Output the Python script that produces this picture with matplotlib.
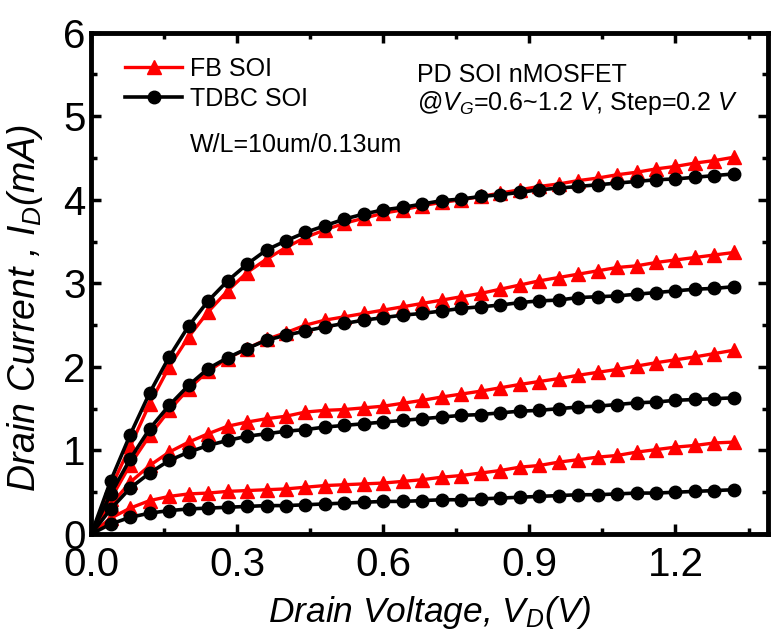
import numpy as np
import matplotlib
matplotlib.use("Agg")
import matplotlib.pyplot as plt
from matplotlib.ticker import MultipleLocator, FormatStrFormatter

plt.rcParams['font.family'] = ['Liberation Sans', 'DejaVu Sans']
plt.rcParams['mathtext.fontset'] = 'custom'
plt.rcParams['mathtext.rm'] = 'Liberation Sans'
plt.rcParams['mathtext.it'] = 'Liberation Sans:italic'

# drain voltage (V)
vd = [0.00, 0.04, 0.08, 0.12, 0.16, 0.20, 0.24, 0.28, 0.32, 0.36, 0.40, 0.44,
      0.48, 0.52, 0.56, 0.60, 0.64, 0.68, 0.72, 0.76, 0.80, 0.84, 0.88, 0.92,
      0.96, 1.00, 1.04, 1.08, 1.12, 1.16, 1.20, 1.24, 1.28, 1.32]

# FB SOI, Vg = 1.2 / 1.0 / 0.8 / 0.6 V  (mA)
fb_12 = [0, 0.55, 1.05, 1.56, 2.00, 2.36, 2.66, 2.91, 3.13, 3.29, 3.43, 3.55,
         3.64, 3.72, 3.78, 3.84, 3.88, 3.93, 3.97, 4.00, 4.04, 4.08, 4.12, 4.16,
         4.19, 4.23, 4.26, 4.30, 4.33, 4.37, 4.40, 4.44, 4.47, 4.51]
fb_10 = [0, 0.42, 0.83, 1.18, 1.48, 1.74, 1.95, 2.10, 2.22, 2.33, 2.41, 2.50,
         2.56, 2.60, 2.64, 2.68, 2.72, 2.76, 2.80, 2.84, 2.88, 2.93, 2.98, 3.03,
         3.07, 3.11, 3.15, 3.19, 3.21, 3.25, 3.28, 3.31, 3.34, 3.37]
fb_08 = [0, 0.35, 0.62, 0.82, 0.98, 1.10, 1.20, 1.29, 1.34, 1.38, 1.41, 1.46,
         1.48, 1.49, 1.51, 1.53, 1.565, 1.60, 1.64, 1.675, 1.71, 1.75, 1.79, 1.825,
         1.86, 1.90, 1.935, 1.97, 2.01, 2.05, 2.085, 2.12, 2.16, 2.20]
fb_06 = [0, 0.19, 0.31, 0.40, 0.45, 0.48, 0.49, 0.51, 0.52, 0.53, 0.54, 0.56,
         0.58, 0.59, 0.60, 0.61, 0.63, 0.65, 0.68, 0.70, 0.73, 0.76, 0.80, 0.82,
         0.86, 0.89, 0.92, 0.94, 0.98, 1.01, 1.04, 1.06, 1.09, 1.10]

# TDBC SOI
td_12 = [0, 0.64, 1.19, 1.69, 2.12, 2.49, 2.79, 3.03, 3.23, 3.40, 3.51, 3.61,
         3.69, 3.77, 3.83, 3.88, 3.91, 3.95, 3.99, 4.01, 4.04, 4.06, 4.09, 4.12,
         4.14, 4.16, 4.18, 4.20, 4.22, 4.24, 4.25, 4.27, 4.29, 4.31]
td_10 = [0, 0.48, 0.90, 1.26, 1.54, 1.78, 1.98, 2.11, 2.22, 2.32, 2.38, 2.43,
         2.48, 2.52, 2.56, 2.59, 2.62, 2.64, 2.67, 2.70, 2.72, 2.74, 2.77, 2.79,
         2.80, 2.83, 2.84, 2.85, 2.87, 2.89, 2.91, 2.93, 2.94, 2.96]
td_08 = [0, 0.30, 0.55, 0.73, 0.88, 0.98, 1.06, 1.12, 1.17, 1.20, 1.23, 1.25,
         1.28, 1.30, 1.32, 1.34, 1.36, 1.38, 1.40, 1.42, 1.43, 1.45, 1.47, 1.48,
         1.50, 1.52, 1.53, 1.55, 1.57, 1.58, 1.60, 1.61, 1.62, 1.63]
td_06 = [0, 0.12, 0.20, 0.25, 0.28, 0.30, 0.31, 0.32, 0.33, 0.34, 0.34, 0.35,
         0.36, 0.37, 0.38, 0.39, 0.39, 0.40, 0.41, 0.41, 0.42, 0.43, 0.44, 0.45,
         0.46, 0.47, 0.47, 0.48, 0.49, 0.49, 0.50, 0.51, 0.52, 0.53]

fb_curves = [fb_12, fb_10, fb_08, fb_06]
td_curves = [td_12, td_10, td_08, td_06]

fig = plt.figure(figsize=(7.71, 6.33), dpi=100)
ax = fig.add_axes([0.1184, 0.1564, 0.8777, 0.7919])

for i, y in enumerate(fb_curves):
    ax.plot(vd, y, color='#ff0000', lw=2.4, marker='^', ms=10.5, mec='#ff0000',
            label='FB SOI' if i == 0 else None, zorder=2)
for i, y in enumerate(td_curves):
    ax.plot(vd, y, color='black', lw=2.6, marker='o', ms=9,
            label='TDBC SOI' if i == 0 else None, zorder=3)

ax.set_xlim(0, 1.39)
ax.set_ylim(0, 6)
ax.xaxis.set_major_locator(MultipleLocator(0.3))
ax.xaxis.set_minor_locator(MultipleLocator(0.15))
ax.xaxis.set_major_formatter(FormatStrFormatter('%.1f'))
ax.yaxis.set_major_locator(MultipleLocator(1))
ax.yaxis.set_minor_locator(MultipleLocator(0.5))

for s in ax.spines.values():
    s.set_linewidth(3.5)
ax.tick_params(which='both', direction='in', top=True, right=True, width=2.5,
               labelsize=29)
ax.tick_params(which='major', length=7)
ax.tick_params(which='minor', length=4.5)
ax.tick_params(axis='x', pad=9)
ax.tick_params(axis='y', pad=4)

ax.set_xlabel('Drain Voltage, $V_D$(V)', fontsize=25.5, fontstyle='italic')
ax.set_ylabel('Drain Current , $I_D$(mA)', fontsize=27, fontstyle='italic')
ax.xaxis.set_label_coords(0.5, -0.12)
ax.yaxis.set_label_coords(-0.068, 0.45)

leg = ax.legend(loc='upper left', bbox_to_anchor=(0.035, 0.972), frameon=False,
                fontsize=18, handlelength=2.3, handletextpad=0.3,
                labelspacing=0.25, borderaxespad=0)

ax.text(0.146, 0.763, 'W/L=10um/0.13um', transform=ax.transAxes, fontsize=18,
        va='baseline')
ax.text(0.481, 0.902, 'PD SOI nMOSFET', transform=ax.transAxes, fontsize=18,
        va='baseline')
ax.text(0.481, 0.846, '@$V_G$=0.6~1.2 $V$, Step=0.2 $V$', transform=ax.transAxes,
        fontsize=18, va='baseline')

fig.savefig('out.png', dpi=100)
